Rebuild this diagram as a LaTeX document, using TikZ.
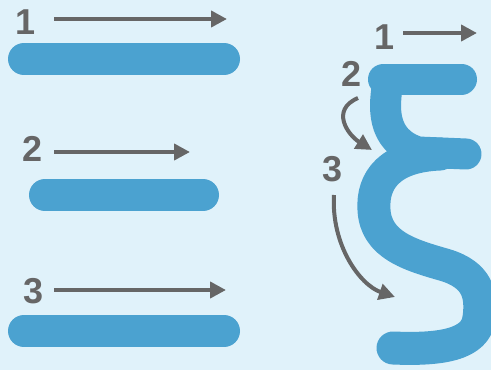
\documentclass[tikz,border=0pt]{standalone}
\usepackage{fontspec}
\setmainfont{Liberation Sans}
\usetikzlibrary{arrows.meta}
\begin{document}
\begin{tikzpicture}[x=1pt, y=-1pt]
            \definecolor{Bgcolor}{RGB}{224, 242, 250}
            \definecolor{Scolor}{RGB}{75, 162, 208}
            \definecolor{Acolor}{RGB}{102, 102, 102}
            \def\strokewidth{31pt}
            \def\barwidth{32pt}
            \def\arrowwidth{4pt}
            \tikzset{
                stroke/.style={draw=Scolor, line width=\strokewidth, line cap=round, line join=round},
                bar/.style={stroke, line width=\barwidth},
                order/.style={draw=Acolor, line width=\arrowwidth, -{Triangle[length=16pt, width=16pt]}},
                num/.style={text=Acolor, inner sep=0pt, font=\fontsize{36}{36}\selectfont\bfseries},
            }
            \useasboundingbox (0, 0) rectangle (491, 370);
            \fill[Bgcolor] (0, 0) rectangle (491, 370);
            \clip (0, 0) rectangle (491, 370);
            % horizontal strokes
            \draw[bar] (24, 59) -- (224, 59);
            \draw[bar] (45, 195) -- (203, 195);
            \draw[bar] (24, 331) -- (224, 331);
            \node[num] (n1) at (26, 22) {1};
            \node[num] (n2) at (33, 149) {2};
            \node[num] (n3) at (33.5, 291) {3};
            \coordinate (a1s) at (54, 19);
            \coordinate (a1e) at (227, 19);
            \coordinate (a2s) at (54, 152);
            \coordinate (a2e) at (190, 152);
            \coordinate (a3s) at (54, 290);
            \coordinate (a3e) at (226, 290);
            \draw[order] (a1s) -- (a1e);
            \draw[order] (a2s) -- (a2e);
            \draw[order] (a3s) -- (a3e);
            % the xi glyph
            \draw[stroke] (383.5, 79) -- (461.5, 79);
            \draw[stroke] (388, 82) .. controls (384, 105) and (380, 140) .. (418, 152) -- (466, 154);
            \draw[stroke, line width=33pt] (440, 154) .. controls (390, 156) and (372, 180) .. (374, 210)
                .. controls (376, 245) and (410, 255) .. (445, 265)
                .. controls (478, 275) and (482, 295) .. (479, 318)
                .. controls (476, 345) and (440, 350) .. (393, 348);
            \node[num] (x1) at (385, 37) {1};
            \node[num] (x2) at (352, 74) {2};
            \node[num] (x3) at (333, 169) {3};
            \coordinate (b1s) at (403, 33);
            \coordinate (b1e) at (477, 33);
            \coordinate (b2s) at (358, 98);
            \coordinate (b2e) at (372, 150);
            \coordinate (b3s) at (334, 195);
            \coordinate (b3e) at (395, 297);
            \draw[order] (b1s) -- (b1e);
            \draw[order] (b2s) .. controls (330, 110) and (348, 135) .. (b2e);
            \draw[order] (b3s) .. controls (331, 245) and (360, 285) .. (b3e);
        \end{tikzpicture}
\end{document}
